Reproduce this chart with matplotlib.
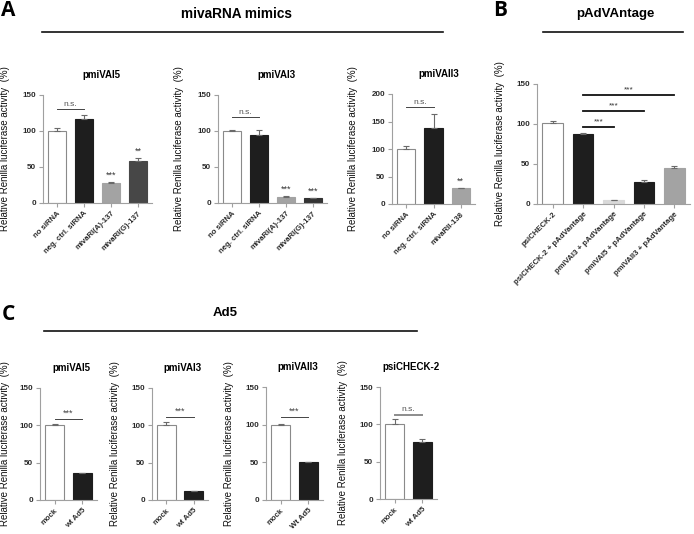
import matplotlib
matplotlib.use("Agg")
import matplotlib.pyplot as plt
from matplotlib.lines import Line2D

plt.rcParams['font.family'] = ['Liberation Sans', 'DejaVu Sans']

W, H = 694, 534

# ---------------- data ----------------
a1_labels = ["no siRNA", "neg. ctrl. siRNA", "mivaRI(A)-137", "mivaRI(G)-137"]
a1_values = [100, 116, 28, 58]
a1_errors = [4, 6, 1, 4]
a1_stars = ["", "", "***", "**"]

a2_labels = ["no siRNA", "neg. ctrl. siRNA", "mivaRI(A)-137", "mivaRI(G)-137"]
a2_values = [100, 94, 9, 7]
a2_errors = [1, 7, 1, 0.5]
a2_stars = ["", "", "***", "***"]

a3_labels = ["no siRNA", "neg. ctrl. siRNA", "mivaRII-138"]
a3_values = [100, 139, 29]
a3_errors = [6, 24, 1]
a3_stars = ["", "", "**"]

b_labels = ["psiCHECK-2", "psiCHECK-2 + pAdVantage", "pmiVAI3 + pAdVantage",
            "pmiVAI5 + pAdVantage", "pmiVAII3 + pAdVantage"]
b_values = [101, 87, 5, 28, 45]
b_errors = [3, 2, 0.5, 2, 2.5]
b_sig_levels = [96, 116, 136]
b_sig_targets = [2, 3, 4]

c_titles = ["pmiVAI5", "pmiVAI3", "pmiVAII3", "psiCHECK-2"]
c_labels = [["mock", "wt Ad5"], ["mock", "wt Ad5"], ["mock", "Wt Ad5"], ["mock", "wt Ad5"]]
c_values = [[100, 36], [100, 12], [100, 50], [100, 76]]
c_errors = [[2, 0.5], [4, 0.5], [0.5, 0.8], [7, 5]]
c_sig_text = ["***", "***", "***", "n.s."]
c_sig_levels = [108, 111, 110, 113]

# ---------------- style ----------------
WHITE = "#ffffff"
BLACK = "#1e1e1e"
GREY = "#a3a3a3"
DGREY = "#474747"
LGREY = "#d9d9d9"
SPINE = "#a0a0a0"
ERR = "#6a6a6a"
TXT = "#2a2a2a"

a1_colors = [WHITE, BLACK, GREY, DGREY]
a2_colors = [WHITE, BLACK, GREY, "#333333"]
a3_colors = [WHITE, BLACK, GREY]
b_colors = [WHITE, BLACK, LGREY, BLACK, GREY]
c_colors = [WHITE, BLACK]

YLABEL = "Relative Renilla luciferase activity  (%)"

fig = plt.figure(figsize=(W / 100, H / 100), dpi=100)


def add_ax(l, r, t, b):
    return fig.add_axes([l / W, 1 - b / H, (r - l) / W, (b - t) / H])


def style_ax(ax, labels, ymax, yticks, ylab_off_px, width_px):
    n = len(labels)
    ax.set_xlim(-0.52, n - 1 + 0.52)
    ax.set_ylim(0, ymax)
    for s in ["top", "right"]:
        ax.spines[s].set_visible(False)
    for s in ["left", "bottom"]:
        ax.spines[s].set_color(SPINE)
        ax.spines[s].set_linewidth(0.8)
    ax.set_yticks(yticks)
    ax.set_xticks(range(n))
    ax.tick_params(axis="both", color=SPINE, labelcolor=TXT, length=3, width=0.8)
    ax.tick_params(axis="x", pad=2)
    ax.tick_params(axis="y", pad=2)
    ax.set_xticklabels(labels, rotation=45, ha="right", rotation_mode="anchor",
                       fontsize=5.6, fontweight="bold", color=TXT)
    for t in ax.get_yticklabels():
        t.set_fontsize(5.8)
        t.set_fontweight("bold")
        t.set_color(TXT)
    ax.set_ylabel(YLABEL, fontsize=7.0, color="#111111")
    ax.yaxis.set_label_coords(-ylab_off_px / width_px, 0.5)
    ax.patch.set_alpha(0)


def draw_bars(ax, values, errors, colors):
    x = list(range(len(values)))
    edges = ["#8a8a8a" if c == WHITE else c for c in colors]
    ax.bar(x, values, width=0.68, color=colors, edgecolor=edges, linewidth=0.8, zorder=2)
    ax.errorbar(x, values, yerr=[[0] * len(errors), errors], fmt="none",
                ecolor=ERR, elinewidth=0.8, capsize=2.2, capthick=0.8, zorder=3)


def stars_above(ax, values, errors, stars, ymax):
    for i, (v, e, s) in enumerate(zip(values, errors, stars)):
        if s:
            ax.text(i, v + e + ymax * 0.02, s, ha="center", va="bottom",
                    fontsize=6.5, color="#333333")


def ns_line(ax, x0, x1, y, text, ymax, color="#444444", lw=0.7, fs=6, tcolor="#555555"):
    ax.plot([x0, x1], [y, y], color=color, lw=lw, clip_on=False)
    ax.text((x0 + x1) / 2, y + ymax * 0.015, text, ha="center", va="bottom",
            fontsize=fs, color=tcolor)


# ---------------- Panel A ----------------
ax = add_ax(43, 152, 95, 203)
draw_bars(ax, a1_values, a1_errors, a1_colors)
style_ax(ax, a1_labels, 150, [0, 50, 100, 150], 33, 109)
stars_above(ax, a1_values, a1_errors, a1_stars, 150)
ns_line(ax, 0, 1, 130, "n.s.", 150)
ax.set_title("pmiVAI5", fontsize=7, fontweight="bold", pad=12, x=0.54)

ax = add_ax(218, 327, 95, 203)
draw_bars(ax, a2_values, a2_errors, a2_colors)
style_ax(ax, a2_labels, 150, [0, 50, 100, 150], 34, 109)
stars_above(ax, a2_values, a2_errors, a2_stars, 150)
ns_line(ax, 0, 1, 119, "n.s.", 150)
ax.set_title("pmiVAI3", fontsize=7, fontweight="bold", pad=12, x=0.54)

ax = add_ax(392, 475, 94, 204)
draw_bars(ax, a3_values, a3_errors, a3_colors)
style_ax(ax, a3_labels, 200, [0, 50, 100, 150, 200], 34, 83)
stars_above(ax, a3_values, a3_errors, a3_stars, 200)
ns_line(ax, 0, 1, 176, "n.s.", 200)
ax.set_title("pmiVAII3", fontsize=7, fontweight="bold", pad=12, x=0.56)

# ---------------- Panel B ----------------
ax = add_ax(537, 690, 84, 204)
draw_bars(ax, b_values, b_errors, b_colors)
style_ax(ax, b_labels, 150, [0, 50, 100, 150], 32, 153)
for lvl, tgt in zip(b_sig_levels, b_sig_targets):
    ns_line(ax, 1, tgt, lvl, "***", 150, color="#111111", lw=1.3, fs=6, tcolor="#333333")

# ---------------- Panel C ----------------
c_axes_px = [(40, 97, 388, 500), (152, 208, 388, 500), (266, 323, 387, 500), (380, 437, 387, 499)]
c_ylab_off = [30, 32, 32, 32]
for i in range(4):
    l, r, t, b = c_axes_px[i]
    ax = add_ax(l, r, t, b)
    draw_bars(ax, c_values[i], c_errors[i], c_colors)
    style_ax(ax, c_labels[i], 150, [0, 50, 100, 150], c_ylab_off[i], r - l)
    if c_sig_text[i] == "n.s.":
        ns_line(ax, 0, 1, c_sig_levels[i], c_sig_text[i], 150, color="#8c8c8c", lw=1.4,
                fs=6, tcolor="#555555")
    else:
        ns_line(ax, 0, 1, c_sig_levels[i], c_sig_text[i], 150, color="#444444", lw=0.7,
                fs=6.5, tcolor="#444444")
    ax.set_title(c_titles[i], fontsize=7, fontweight="bold", pad=12, x=0.55)

# ---------------- headers ----------------
def fx(x):
    return x / W


def fy(y):
    return 1 - y / H


fig.text(fx(1), fy(10), "A", fontsize=15, fontweight="bold", family=["Open Sans", "DejaVu Sans"],
         va="center", ha="left")
fig.text(fx(493), fy(10), "B", fontsize=15, fontweight="bold", family=["Open Sans", "DejaVu Sans"],
         va="center", ha="left")
fig.text(fx(2), fy(315), "C", fontsize=15, fontweight="bold", family=["Open Sans", "DejaVu Sans"],
         va="center", ha="left")

fig.text(fx(236), fy(14), "mivaRNA mimics", fontsize=9.8, fontweight="bold", ha="center", va="center")
fig.text(fx(615), fy(14), "pAdVAntage", fontsize=9.5, fontweight="bold", ha="center", va="center")
fig.text(fx(225), fy(313), "Ad5", fontsize=9.5, fontweight="bold", ha="center", va="center")

for (x0, x1, y) in [(42, 443, 32), (543, 683, 32), (44, 417, 331)]:
    fig.add_artist(Line2D([fx(x0), fx(x1)], [fy(y), fy(y)], color="#111111", lw=1.2))

fig.savefig("out.png", dpi=100)
